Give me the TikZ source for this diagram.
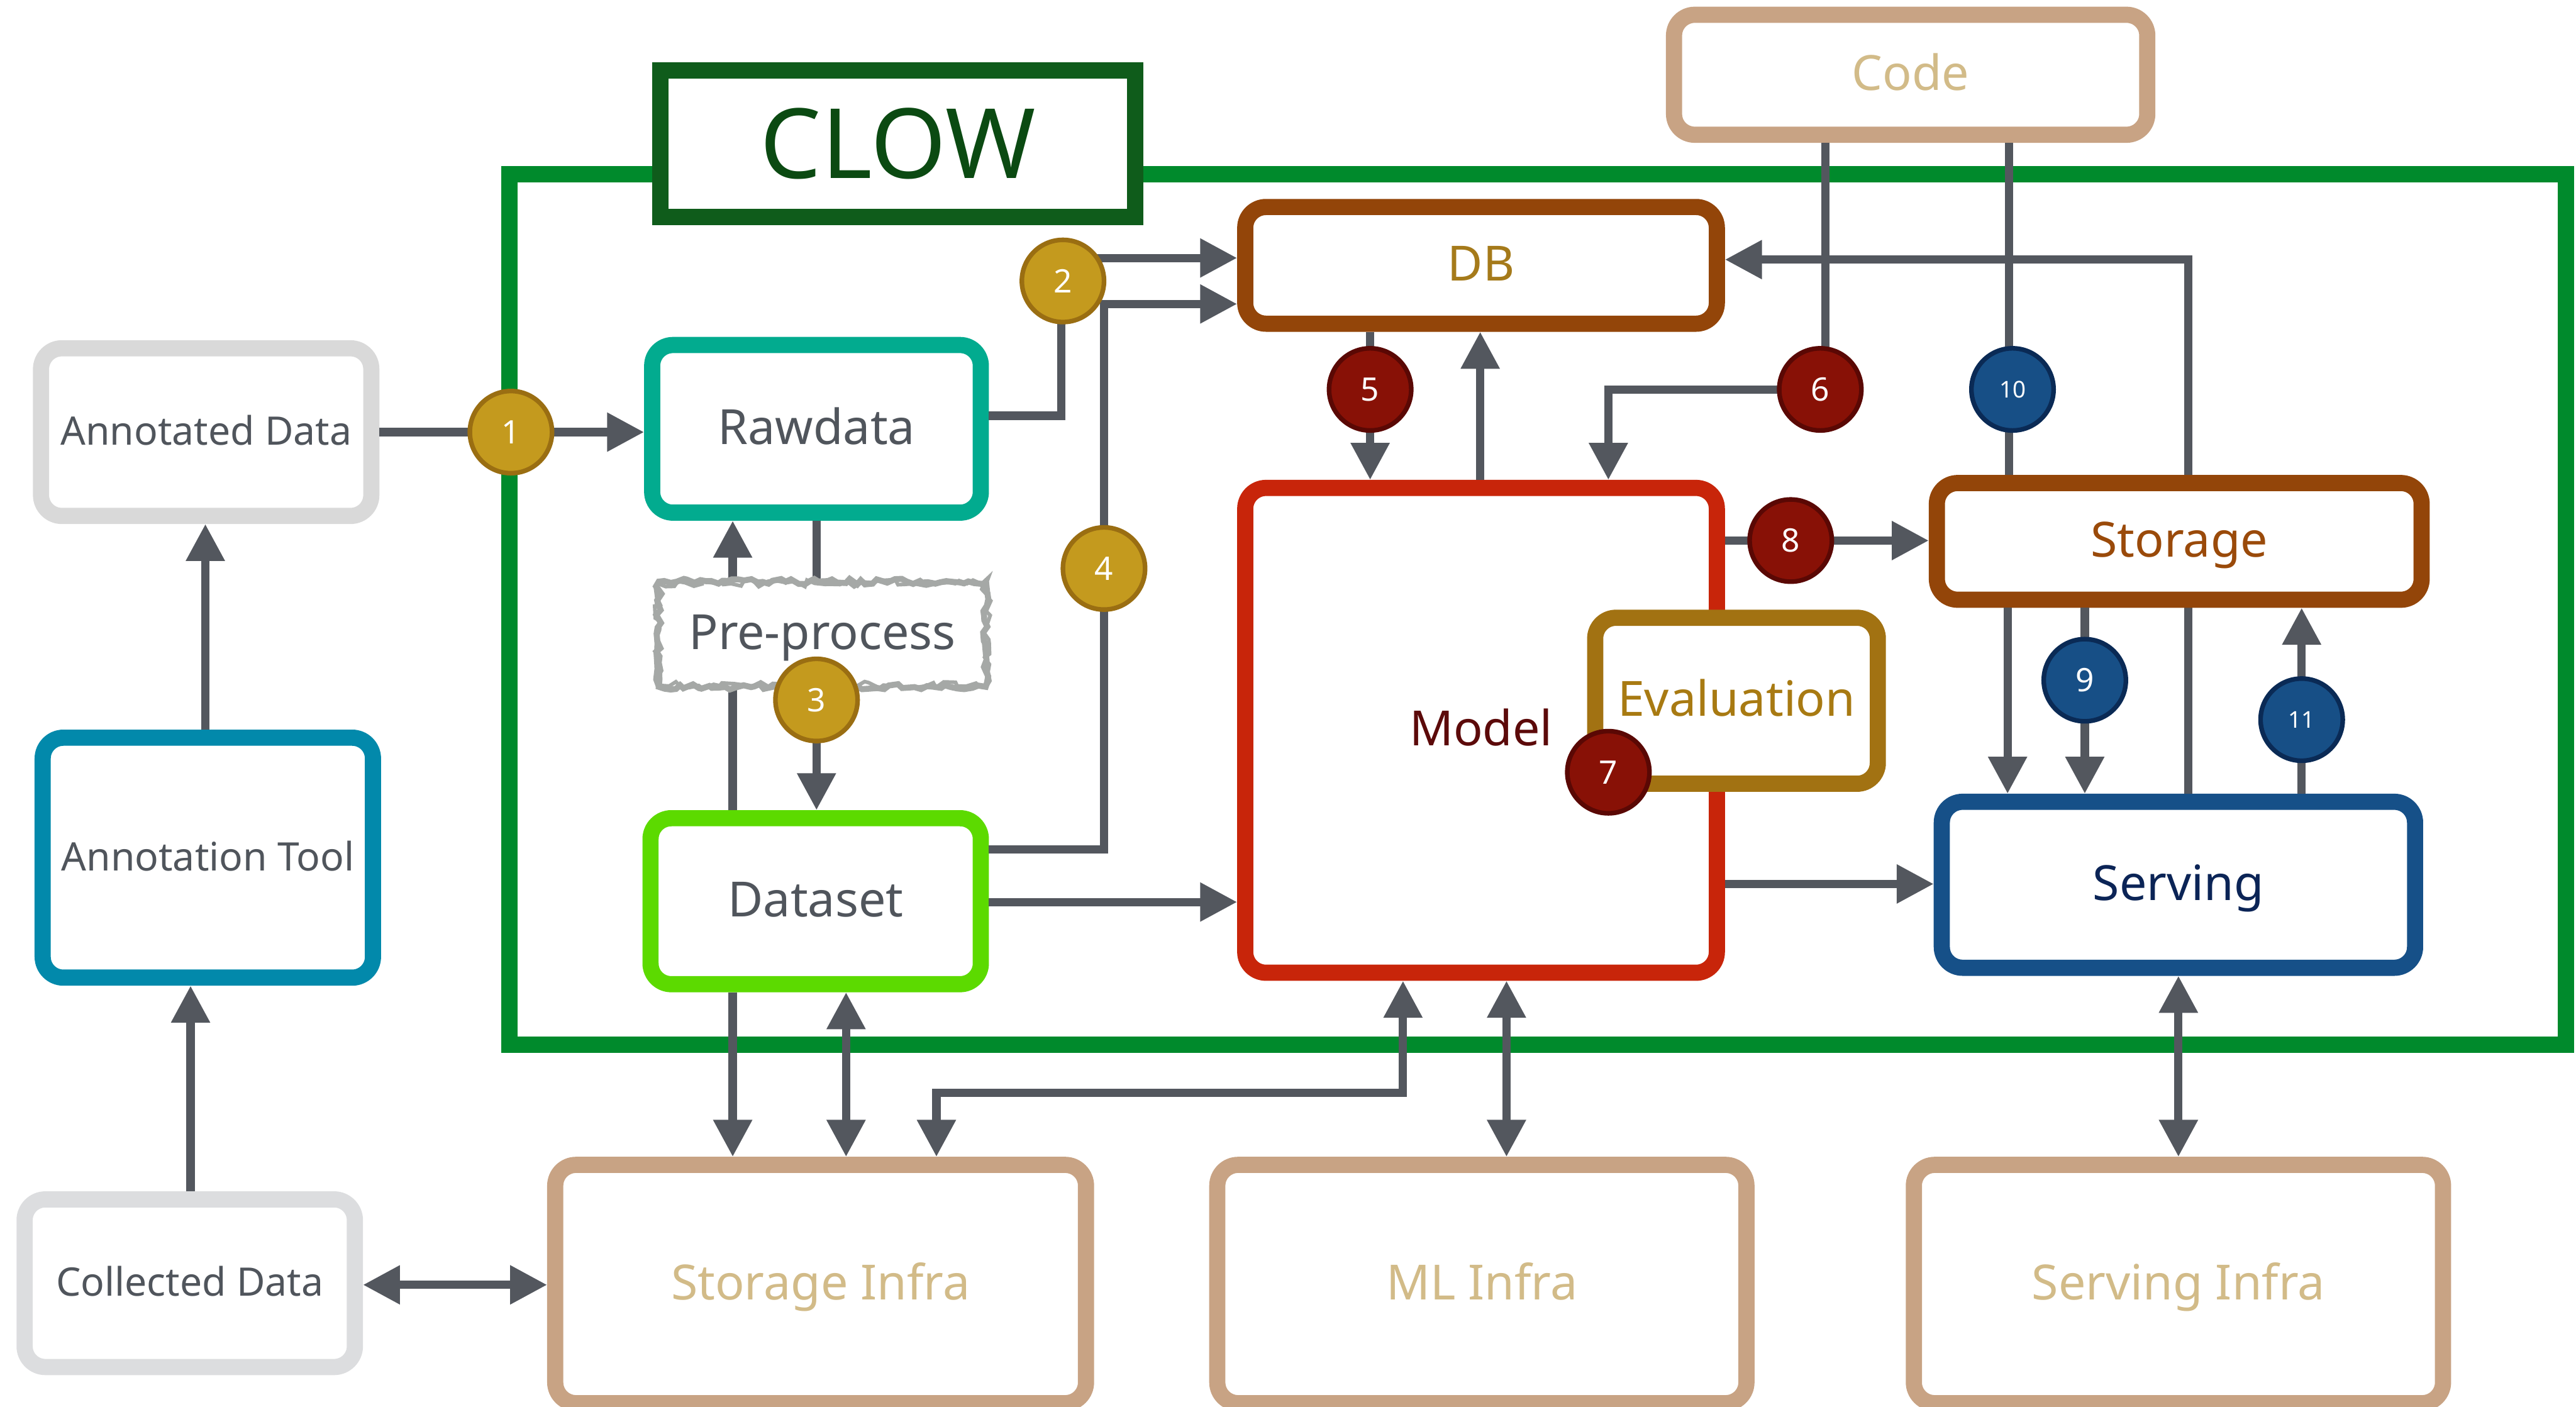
\documentclass[tikz,border=0pt]{standalone}
\usepackage{fontspec}
\setmainfont{Noto Sans}
\usetikzlibrary{arrows.meta,decorations.pathmorphing}
\definecolor{cgray}{HTML}{53575E}
\definecolor{tgray}{HTML}{50555C}
\definecolor{framegreen}{HTML}{008A2C}
\definecolor{clowbox}{HTML}{0F5C1B}
\definecolor{clowtext}{HTML}{0B4A12}
\definecolor{lightbox}{HTML}{D9D9D9}
\definecolor{collbox}{HTML}{DCDDDF}
\definecolor{annbox}{HTML}{0289AB}
\definecolor{rawbox}{HTML}{02AB8F}
\definecolor{datbox}{HTML}{5CDA00}
\definecolor{prebox}{HTML}{A5A8A6}
\definecolor{brownbox}{HTML}{934509}
\definecolor{dbtext}{HTML}{A57A1A}
\definecolor{modelbox}{HTML}{C8250A}
\definecolor{modeltext}{HTML}{5C0A0A}
\definecolor{evalbox}{HTML}{A27212}
\definecolor{evaltext}{HTML}{A87A12}
\definecolor{stortext}{HTML}{9A4A0A}
\definecolor{servbox}{HTML}{165088}
\definecolor{servtext}{HTML}{0B2456}
\definecolor{tanbox}{HTML}{C8A384}
\definecolor{tantext}{HTML}{D2BB88}
\definecolor{goldfill}{HTML}{C49A1E}
\definecolor{goldline}{HTML}{9A6E12}
\definecolor{redfill}{HTML}{881106}
\definecolor{redline}{HTML}{5A0804}
\definecolor{bluefill}{HTML}{174F86}
\definecolor{blueline}{HTML}{0A2A55}
\pgfmathsetseed{7}
\begin{document}
\begin{tikzpicture}[x=0.025cm,y=-0.025cm,
  box/.style={draw, fill=white, rounded corners=9pt, line width=7pt, inner sep=0pt, align=center},
  biglbl/.style={font=\fontsize{21pt}{25pt}\selectfont, text height=17.7pt, text depth=4.3pt},
  smalllbl/.style={font=\fontsize{17pt}{20pt}\selectfont, text height=14.7pt, text depth=3.5pt},
  conn/.style={draw=cgray, line width=3.6pt},
  oneway/.style={-{Triangle[length=16pt,width=16pt]}},
  twoway/.style={{Triangle[length=16pt,width=16pt]}-{Triangle[length=16pt,width=16pt]}},
  badge/.style={circle, minimum size=1.25cm, inner sep=0pt, line width=2pt, text=white, font=\fontsize{14pt}{16pt}\selectfont},
  goldb/.style={badge, fill=goldfill, draw=goldline},
  redb/.style={badge, fill=redfill, draw=redline},
  blueb/.style={badge, fill=bluefill, draw=blueline},
  tinyb/.style={font=\fontsize{10pt}{12pt}\selectfont},
  sketch/.style={draw=prebox, line width=2.6pt, decorate, decoration={random steps, segment length=2.5pt, amplitude=1.2pt}}
]
\useasboundingbox (0,0) rectangle (1568,856);
\fill[white] (0,0) rectangle (1568,856);

% CLOW frame
\draw[framegreen, line width=7.1pt] (310,106) rectangle (1562,636);
\node[draw=clowbox, fill=white, line width=7.1pt, minimum width=7.225cm, minimum height=2.225cm, inner sep=0pt,
      text=clowtext, font=\fontsize{42pt}{46pt}\selectfont] (CLOW) at (546.5,87.5) {CLOW};

% --- nodes ---
\node[box, draw=lightbox, minimum width=5.025cm, minimum height=2.55cm, text=tgray, smalllbl] (AnnD) at (125.5,263) {Annotated Data};
\node[box, draw=annbox, minimum width=5.025cm, minimum height=3.65cm, text=tgray, smalllbl] (AnnT) at (126.5,522) {Annotation Tool};
\node[box, draw=collbox, minimum width=5.025cm, minimum height=2.55cm, text=tgray, smalllbl] (Coll) at (115.5,781) {Collected Data};
\node[box, draw=rawbox, minimum width=5.0cm, minimum height=2.55cm, text=tgray, biglbl] (Raw) at (497,261) {Rawdata};
\node[box, draw=datbox, minimum width=5.025cm, minimum height=2.525cm, text=tgray, biglbl] (Dat) at (496.5,548.5) {Dataset};
\node[box, draw=brownbox, minimum width=7.175cm, minimum height=1.775cm, text=dbtext, biglbl] (DB) at (901.5,161.5) {DB};
\node[box, draw=tanbox, minimum width=7.2cm, minimum height=1.825cm, text=tantext, biglbl] (Code) at (1163,45.5) {Code};
\node[box, draw=modelbox, minimum width=7.175cm, minimum height=7.375cm, text=modeltext, biglbl] (Model) at (901.5,444.5) {Model};
\node[box, draw=servbox, minimum width=7.2cm, minimum height=2.525cm, text=servtext, biglbl] (Serv) at (1326,538.5) {Serving};
\node[box, draw=tanbox, minimum width=8.075cm, minimum height=3.625cm, text=tantext, biglbl] (SInf) at (499.5,781.5) {Storage Infra};
\node[box, draw=tanbox, minimum width=8.05cm, minimum height=3.625cm, text=tantext, biglbl] (MInf) at (902,781.5) {ML Infra};
\node[box, draw=tanbox, minimum width=8.05cm, minimum height=3.625cm, text=tantext, biglbl] (VInf) at (1326,781.5) {Serving Infra};

% lines passing behind Pre-process and Storage
\draw[conn, oneway] (Dat.north -| 446,0) -- (Raw.south -| 446,0);
\draw[conn, oneway] (Raw.south -| 497,0) -- (Dat.north -| 497,0);
\draw[conn, oneway] (Serv.north -| 1332,0) -- (1332,158) -- (DB.east |- 0,158);

\node[fill=white, rounded corners=6pt, inner sep=0pt, outer sep=2.5pt,
      minimum width=4.975cm, minimum height=1.6cm, text=tgray, biglbl] (Pre) at (500.5,386) {Pre-process};
\draw[sketch] (401,354) -- (600,354) -- (600,418) -- (401,418) -- cycle;
\draw[sketch, line width=1.6pt, decoration={random steps, segment length=3pt, amplitude=1.6pt}] (400,355) -- (601,355) -- (601,417) -- (400,417) -- cycle;
\node[box, draw=brownbox, minimum width=7.375cm, minimum height=1.775cm, text=stortext, biglbl] (Stor) at (1326.5,329.5) {Storage};
\node[box, draw=evalbox, minimum width=4.3cm, minimum height=2.525cm, text=evaltext, biglbl] (Eval) at (1057,426.5) {Evaluation};

% --- connectors ---
\draw[conn, oneway] (AnnD.east) -- (AnnD.east -| Raw.west);
\draw[conn, oneway] (Raw.east |- 0,253) -- (646,253) -- (646,157) -- (DB.west |- 0,157);
\draw[conn, oneway] (Dat.east |- 0,517) -- (672,517) -- (672,185) -- (DB.west |- 0,185);
\draw[conn, oneway] (Dat.east |- 0,549) -- (Model.west |- 0,549);
\draw[conn, oneway] (DB.south -| 834,0) -- (Model.north -| 834,0);
\draw[conn, oneway] (Model.north -| 901,0) -- (DB.south -| 901,0);
\draw[conn, oneway] (Code.south -| 1111,0) -- (1111,237) -- (979,237) -- (Model.north -| 979,0);
\draw[conn] (Code.south -| 1223,0) -- (Stor.north -| 1223,0);
\draw[conn, oneway] (Model.east |- 0,329) -- (Stor.west |- 0,329);
\draw[conn, oneway] (Model.east |- 0,538) -- (Serv.west |- 0,538);
\draw[conn, oneway] (Stor.south -| 1222,0) -- (Serv.north -| 1222,0);
\draw[conn, oneway] (Stor.south -| 1269,0) -- (Serv.north -| 1269,0);
\draw[conn, oneway] (Serv.north -| 1401,0) -- (Stor.south -| 1401,0);
\draw[conn, oneway] (AnnT.north -| 125,0) -- (AnnD.south -| 125,0);
\draw[conn, oneway] (Coll.north -| 116,0) -- (AnnT.south -| 116,0);
\draw[conn, twoway] (Coll.east |- 0,782) -- (SInf.west |- 0,782);
\draw[conn, oneway] (Dat.south -| 446,0) -- (SInf.north -| 446,0);
\draw[conn, twoway] (Dat.south -| 515,0) -- (SInf.north -| 515,0);
\draw[conn, twoway] (Model.south -| 854,0) -- (854,665) -- (570,665) -- (SInf.north -| 570,0);
\draw[conn, twoway] (Model.south -| 917,0) -- (MInf.north -| 917,0);
\draw[conn, twoway] (Serv.south -| 1326,0) -- (VInf.north -| 1326,0);

% --- badges ---
\node[goldb] (b1) at (311,263) {1};
\node[goldb] (b2) at (647,171) {2};
\node[goldb] (b3) at (497,426) {3};
\node[goldb] (b4) at (672,346) {4};
\node[redb] (b5) at (834,237) {5};
\node[redb] (b6) at (1108,237) {6};
\node[redb] (b7) at (979,470) {7};
\node[redb] (b8) at (1090,329) {8};
\node[blueb] (b9) at (1269,414) {9};
\node[blueb, tinyb] (b10) at (1225,237) {10};
\node[blueb, tinyb] (b11) at (1401,438) {11};
\end{tikzpicture}
\end{document}
